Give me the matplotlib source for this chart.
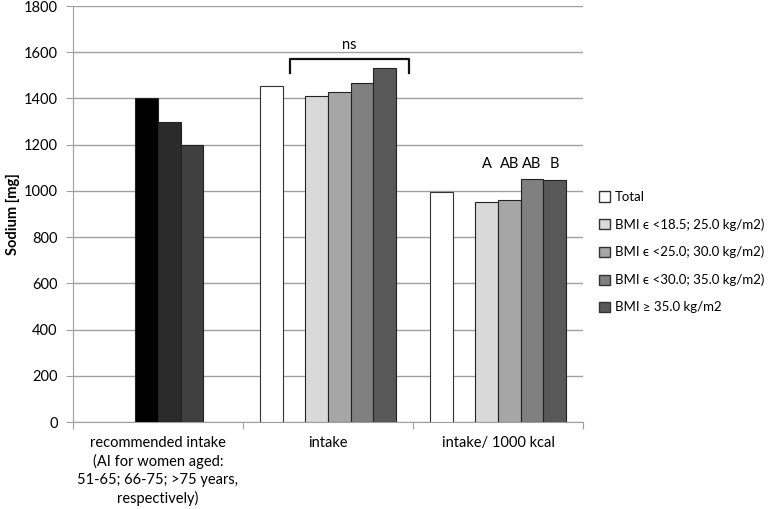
import numpy as np
import matplotlib
matplotlib.use("Agg")
import matplotlib.pyplot as plt
from matplotlib.patches import Patch

plt.rcParams['font.family'] = ['Lato', 'DejaVu Sans']

# data
categories = ['recommended intake\n(AI for women aged:\n51-65; 66-75; >75 years,\nrespectively)',
              'intake', 'intake/ 1000 kcal']
recommended = [1400, 1300, 1200]
recommended_colors = ['#000000', '#2b2b2b', '#404040']
total = [1455, 997]
bmi_labels = ['BMI \u03f5 <18.5; 25.0 kg/m2)', 'BMI \u03f5 <25.0; 30.0 kg/m2)',
              'BMI \u03f5 <30.0; 35.0 kg/m2)', 'BMI \u2265 35.0 kg/m2']
bmi_intake = [1412, 1429, 1468, 1530]
bmi_per_kcal = [952, 959, 1051, 1047]
bmi_colors = ['#d9d9d9', '#a6a6a6', '#808080', '#595959']
letters = ['A', 'AB', 'AB', 'B']

fig = plt.figure(figsize=(7.78, 5.09), dpi=100)
ax = fig.add_axes([0.0938, 0.1709, 0.6555, 0.8173])

w = 1 / 7.5
def off(slot):
    return (slot - 2.5) * w

x = np.arange(3)
# recommended intake bars in slots 2..4
for i, v in enumerate(recommended):
    ax.bar(x[0] + off(2 + i), v, w, color=recommended_colors[i], edgecolor='#222222', lw=0.8, zorder=3)
# total
ax.bar(x[1:] + off(0), total, w, color='white', edgecolor='#333333', lw=0.8, zorder=3)
# bmi groups
for j in range(4):
    ax.bar(x[1:] + off(2 + j), [bmi_intake[j], bmi_per_kcal[j]], w, color=bmi_colors[j],
           edgecolor='#222222', lw=0.8, zorder=3)
    ax.text(x[2] + off(2 + j), 1085, letters[j], ha='center', va='bottom', fontsize=10.5)

# ns bracket
x0, x1 = x[1] + off(0.82), x[1] + off(6.07)
ax.plot([x0, x0, x1, x1], [1510, 1571, 1571, 1510], color='#111111', lw=1.6, zorder=4)
ax.text((x0 + x1) / 2, 1600, 'ns', ha='center', va='bottom', fontsize=10.5)

ax.set_xlim(-0.5, 2.5)
ax.set_ylim(0, 1800)
ax.set_yticks(np.arange(0, 1801, 200))
ax.yaxis.grid(True, color='#a0a0a0', lw=1)
ax.set_axisbelow(True)
ax.set_xticks([-0.5, 0.5, 1.5, 2.5])
ax.set_xticklabels([])
ax.set_xticks(x, minor=True)
ax.set_xticklabels(categories, minor=True, fontsize=10.5, linespacing=1.35)
ax.tick_params(axis='x', which='minor', length=0, pad=10)
ax.tick_params(axis='x', which='major', length=5, color='#a0a0a0')
ax.tick_params(axis='y', length=5, color='#a0a0a0', labelsize=10.5, pad=6)
for s in ['top', 'right']:
    ax.spines[s].set_visible(False)
for s in ['left', 'bottom']:
    ax.spines[s].set_color('#a0a0a0')
ax.set_ylabel('Sodium [mg]', fontweight='bold', fontsize=10.5, labelpad=3)

handles = [Patch(facecolor='white', edgecolor='#333333', label='Total')]
handles += [Patch(facecolor=c, edgecolor='#333333', label=l) for c, l in zip(bmi_colors, bmi_labels)]
fig.legend(handles=handles, loc='upper left', bbox_to_anchor=(0.755, 0.648), frameon=False,
           fontsize=9.5, handlelength=0.8, handleheight=0.8, handletextpad=0.4, labelspacing=1.15)

fig.savefig('out.png', dpi=100)
